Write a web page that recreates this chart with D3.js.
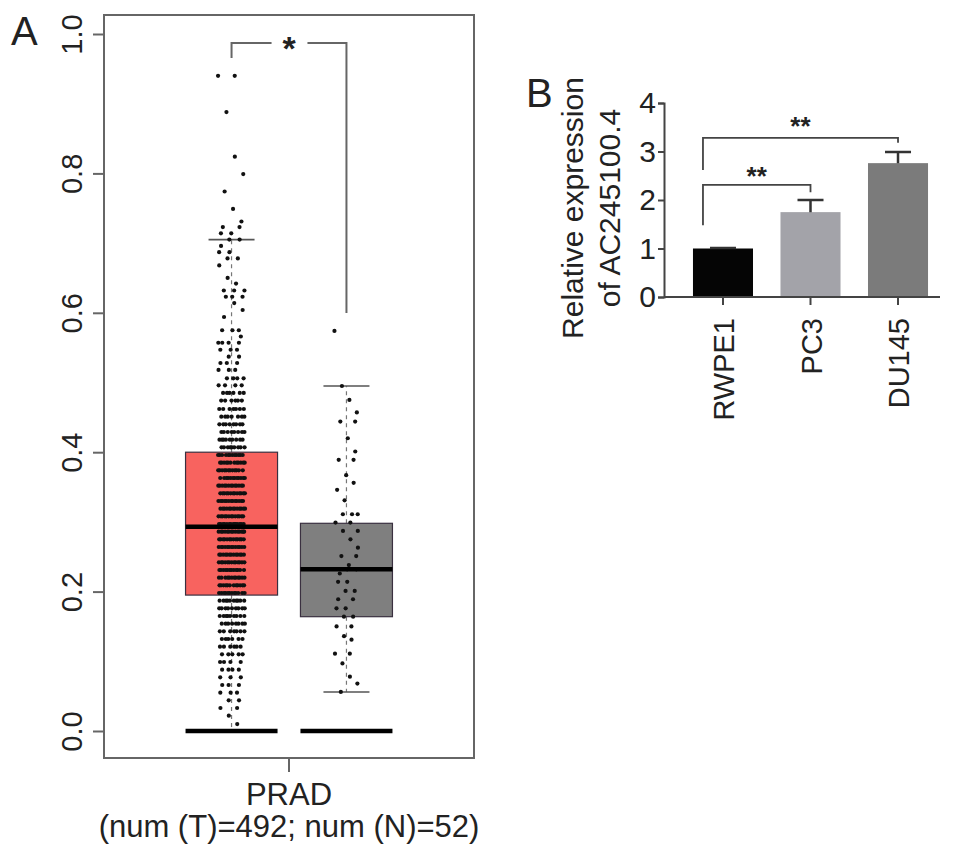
<!DOCTYPE html>
<html>
<head>
<meta charset="utf-8">
<script src="https://cdn.jsdelivr.net/npm/d3@7"></script>
<style>
  body { margin: 0; background: #fff; }
  svg text { font-family: "Liberation Sans", Arial, sans-serif; fill: #222; }
</style>
</head>
<body>
<svg id="chart" width="969" height="861"></svg>
<script>
// ---- Panel A: box plot (GEPIA style) ----
const aTicks = [0, 0.2, 0.4, 0.6, 0.8, 1.0];
const aGroups = ['Tumor', 'Normal'];
const aQ1 = [0.195, 0.164];
const aMedian = [0.293, 0.232];
const aQ3 = [0.400, 0.298];
const aWhiskLo = [0.0, 0.056];
const aWhiskHi = [0.705, 0.495];
const aColors = ['#f8635f', '#7f7f7f'];

// tumour samples (n = 492): value levels and how many samples sit on each
const tumorLevels = [0.940, 0.888, 0.824, 0.799, 0.774, 0.749, 0.731, 0.723, 0.714, 0.705,
  0.696, 0.687, 0.678, 0.668, 0.650, 0.642, 0.632, 0.623, 0.614, 0.604, 0.594, 0.575,
  0.566, 0.557, 0.547, 0.537, 0.528, 0.518, 0.506, 0.496,
  0.485, 0.474, 0.462, 0.451, 0.440, 0.429, 0.418, 0.407,
  0.396, 0.385, 0.374, 0.363, 0.352, 0.341, 0.330, 0.319, 0.308, 0.297,
  0.286, 0.275, 0.264, 0.253, 0.242, 0.231, 0.220, 0.209, 0.198,
  0.187, 0.176, 0.165, 0.154, 0.143, 0.132, 0.121, 0.110, 0.099, 0.088, 0.077, 0.066,
  0.055, 0.044, 0.033, 0.022, 0.010, 0.0];
const tumorCounts = [2, 1, 1, 1, 1, 1, 1, 2, 2, 2,
  1, 2, 2, 1, 1, 1, 3, 3, 1, 1, 1, 3,
  1, 4, 3, 2, 3, 3, 4, 4,
  6, 6, 7, 7, 8, 8, 9, 9,
  12, 12, 12, 12, 13, 13, 13, 13, 13, 14,
  14, 13, 13, 13, 13, 12, 12, 12, 12,
  10, 9, 9, 8, 7, 6, 6, 5, 4, 4, 3, 3,
  3, 2, 2, 1, 1, 50];

// normal samples (n = 52)
const normalLevels = [0.574, 0.495, 0.475, 0.457, 0.444, 0.420, 0.401, 0.389, 0.367, 0.356,
  0.346, 0.331, 0.311, 0.299, 0.287, 0.275, 0.263, 0.251, 0.238, 0.232, 0.226, 0.214,
  0.201, 0.189, 0.176, 0.164, 0.150, 0.136, 0.131, 0.111, 0.097, 0.078, 0.068, 0.056, 0.0];
const normalCounts = [1, 1, 1, 1, 2, 1, 1, 2, 1, 1,
  1, 1, 3, 2, 2, 1, 1, 2, 1, 2, 1, 2,
  2, 2, 2, 2, 2, 1, 1, 2, 1, 1, 1, 1, 3];

// ---- Panel B: bar chart ----
const bCats = ['RWPE1', 'PC3', 'DU145'];
const bMeans = [1.0, 1.75, 2.76];
const bErrs = [0.01, 0.25, 0.23];
const bColors = ['#050505', '#a3a3a9', '#7b7b7b'];
const bTicks = [0, 1, 2, 3, 4];
// significance brackets: from, to, bar height, left/right leg ends, label
const sigFrom = ['RWPE1', 'RWPE1'];
const sigTo = ['PC3', 'DU145'];
const sigY = [2.31, 3.28];
const sigLegL = [1.48, 2.62];
const sigLegR = [2.16, 3.18];
const sigLabelY = [2.58, 3.61];

const svg = d3.select('#chart');

// ===== Panel A =====
const frame = { left: 104, top: 15, right: 474, bottom: 758 };
const yA = d3.scaleLinear().domain([0, 1]).range([731, 34]);
const xCancer = d3.scaleBand().domain(['PRAD']).range([frame.left, frame.right]);
const xGroup = d3.scalePoint().domain(aGroups).range([frame.left, frame.right]).padding(1.11);
const boxW = 92;

const gA = svg.append('g');

// boxes
aGroups.forEach((g, i) => {
  const cx = xGroup(g);
  // whiskers (dashed)
  gA.append('line')
    .attr('x1', cx).attr('x2', cx)
    .attr('y1', yA(aQ3[i])).attr('y2', yA(aWhiskHi[i]))
    .attr('stroke', '#777').attr('stroke-width', 1.2).attr('stroke-dasharray', '4,4');
  gA.append('line')
    .attr('x1', cx).attr('x2', cx)
    .attr('y1', yA(aQ1[i])).attr('y2', yA(aWhiskLo[i]))
    .attr('stroke', '#777').attr('stroke-width', 1.2).attr('stroke-dasharray', '4,4');
  // caps
  [aWhiskHi[i], aWhiskLo[i]].forEach(v => {
    gA.append('line')
      .attr('x1', cx - 23).attr('x2', cx + 23)
      .attr('y1', yA(v)).attr('y2', yA(v))
      .attr('stroke', '#555').attr('stroke-width', 1.6);
  });
  gA.append('rect')
    .attr('x', cx - boxW / 2).attr('width', boxW)
    .attr('y', yA(aQ3[i])).attr('height', yA(aQ1[i]) - yA(aQ3[i]))
    .attr('fill', aColors[i]).attr('stroke', '#3a3040').attr('stroke-width', 1.2);
});

// jittered points
function drawDots(levels, counts, group, width) {
  const cx = xGroup(group);
  const pts = [];
  levels.forEach((v, r) => {
    for (let k = 0; k < counts[r]; k++) {
      const f = (k * 0.618034 + r * 0.3111) % 1;
      pts.push({ x: cx + (f - 0.5) * width, v });
    }
  });
  gA.append('g').selectAll('circle').data(pts).join('circle')
    .attr('cx', d => d.x).attr('cy', d => yA(d.v))
    .attr('r', 2.1).attr('fill', '#111');
}
drawDots(tumorLevels, tumorCounts, 'Tumor', 27);
drawDots(normalLevels, normalCounts, 'Normal', 24);

// medians and zero bars
aGroups.forEach((g, i) => {
  const cx = xGroup(g);
  gA.append('line')
    .attr('x1', cx - boxW / 2).attr('x2', cx + boxW / 2)
    .attr('y1', yA(aMedian[i])).attr('y2', yA(aMedian[i]))
    .attr('stroke', '#000').attr('stroke-width', 4.5);
  gA.append('line')
    .attr('x1', cx - boxW / 2).attr('x2', cx + boxW / 2)
    .attr('y1', yA(0)).attr('y2', yA(0))
    .attr('stroke', '#000').attr('stroke-width', 4.5);
});

// significance bracket
const bx1 = xGroup('Tumor'), bx2 = xGroup('Normal');
const brY = 43;
gA.append('path')
  .attr('d', `M${bx1},58 V${brY} H${bx1 + 40} M${bx2 - 39},${brY} H${bx2} V313`)
  .attr('fill', 'none').attr('stroke', '#666').attr('stroke-width', 2);
gA.append('text')
  .attr('x', (bx1 + bx2) / 2).attr('y', brY + 17)
  .attr('text-anchor', 'middle').attr('font-size', 34).attr('font-weight', 'bold')
  .text('*');

// frame
gA.append('rect')
  .attr('x', frame.left).attr('y', frame.top)
  .attr('width', frame.right - frame.left).attr('height', frame.bottom - frame.top)
  .attr('fill', 'none').attr('stroke', '#666').attr('stroke-width', 2);

// y axis
const axA = gA.append('g')
  .attr('transform', `translate(${frame.left},0)`)
  .call(d3.axisLeft(yA).tickValues(aTicks).tickFormat(d3.format('.1f')).tickSize(11));
axA.select('.domain').remove();
axA.selectAll('.tick line').attr('stroke', '#666').attr('stroke-width', 2);
axA.selectAll('.tick text')
  .attr('x', 0).attr('dy', 0).attr('text-anchor', 'middle')
  .attr('transform', 'translate(-22,0) rotate(-90)')
  .attr('font-size', 29).attr('fill', '#222');

// x axis
const axAx = gA.append('g')
  .attr('transform', `translate(0,${frame.bottom})`)
  .call(d3.axisBottom(xCancer).tickSize(14).tickFormat(''));
axAx.select('.domain').remove();
axAx.selectAll('.tick line').attr('stroke', '#666').attr('stroke-width', 2);
gA.append('text').attr('x', xCancer('PRAD') + xCancer.bandwidth() / 2).attr('y', 805)
  .attr('text-anchor', 'middle').attr('font-size', 31).text('PRAD');
gA.append('text').attr('x', xCancer('PRAD') + xCancer.bandwidth() / 2).attr('y', 837)
  .attr('text-anchor', 'middle').attr('font-size', 31).text('(num (T)=492; num (N)=52)');

svg.append('text').attr('x', 11).attr('y', 45).attr('font-size', 40).text('A');

// ===== Panel B =====
const yB = d3.scaleLinear().domain([0, 4]).range([297, 103]);
const xB = d3.scaleBand().domain(bCats).range([664, 957]).paddingInner(0.314).paddingOuter(0.331);
const gB = svg.append('g');

gB.selectAll('rect.bar').data(bCats).join('rect')
  .attr('class', 'bar')
  .attr('x', d => xB(d)).attr('width', xB.bandwidth())
  .attr('y', (d, i) => yB(bMeans[i])).attr('height', (d, i) => yB(0) - yB(bMeans[i]))
  .attr('fill', (d, i) => bColors[i]);

// error bars (upper only)
bCats.forEach((c, i) => {
  const cx = xB(c) + xB.bandwidth() / 2;
  gB.append('path')
    .attr('d', `M${cx},${yB(bMeans[i])} V${yB(bMeans[i] + bErrs[i])} M${cx - 13},${yB(bMeans[i] + bErrs[i])} H${cx + 13}`)
    .attr('fill', 'none').attr('stroke', '#333').attr('stroke-width', 2.5);
});

// axes
const axBy = gB.append('g').attr('transform', 'translate(664,0)')
  .call(d3.axisLeft(yB).tickValues(bTicks).tickFormat(d3.format('d')).tickSize(6).tickPadding(2));
axBy.select('.domain').attr('stroke', '#444').attr('stroke-width', 2);
axBy.selectAll('.tick line').attr('stroke', '#444').attr('stroke-width', 2);
axBy.selectAll('.tick text').attr('font-size', 30).attr('fill', '#222');

const axBx = gB.append('g').attr('transform', `translate(0,${yB(0)})`)
  .call(d3.axisBottom(xB).tickSize(8).tickSizeOuter(0));
axBx.select('.domain').attr('d', 'M664,0H940').attr('stroke', '#444').attr('stroke-width', 2);
axBx.selectAll('.tick line').attr('stroke', '#444').attr('stroke-width', 2);
axBx.selectAll('.tick text')
  .attr('x', 0).attr('y', 0).attr('dy', 0).attr('text-anchor', 'end')
  .attr('transform', 'translate(11,21) rotate(-90)')
  .attr('font-size', 29).attr('fill', '#222');

// significance brackets
sigFrom.forEach((f, i) => {
  const x1 = xB(f) + 10;
  const x2 = xB(sigTo[i]) + xB.bandwidth() / 2;
  gB.append('path')
    .attr('d', `M${x1},${yB(sigLegL[i])} V${yB(sigY[i])} H${x2} V${yB(sigLegR[i])}`)
    .attr('fill', 'none').attr('stroke', '#444').attr('stroke-width', 1.8);
  gB.append('text')
    .attr('x', (x1 + x2) / 2).attr('y', yB(sigLabelY[i]) + 13)
    .attr('text-anchor', 'middle').attr('font-size', 26).attr('font-weight', 'bold')
    .text('**');
});

// y title
const tt = gB.append('text').attr('transform', 'translate(583,208) rotate(-90)')
  .attr('text-anchor', 'middle').attr('font-size', 30);
tt.append('tspan').attr('x', 0).attr('y', 0).text('Relative expression');
tt.append('tspan').attr('x', 0).attr('y', 37).text('of AC245100.4');

svg.append('text').attr('x', 526).attr('y', 107).attr('font-size', 40).text('B');
</script>
</body>
</html>
